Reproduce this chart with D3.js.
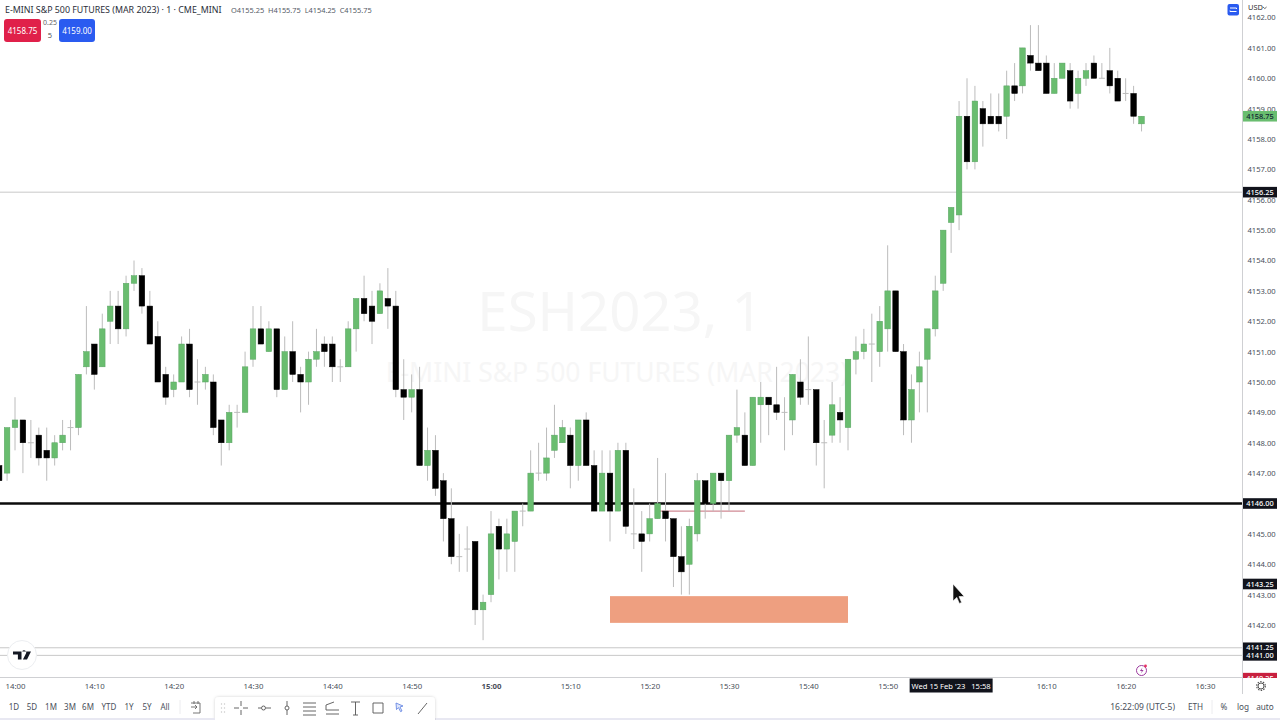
<!DOCTYPE html>
<html><head><meta charset="utf-8">
<script src="https://cdn.jsdelivr.net/npm/d3@7"></script>
<style>
html,body{margin:0;padding:0;background:#fff;overflow:hidden}
svg{display:block}
text{font-family:"Noto Sans",Roboto,sans-serif}
</style></head><body>
<svg id="c" width="1280" height="720"></svg>
<script>
const firstMinute = -2;
const opens = [
4147.25,4147,4148.5,4148.75,4148,4148.25,4147.75,4147.5,4148,4148.5,
4148.5,4150.5,4151.25,4150.5,4152,4152.5,4151.75,4153.25,4153.5,4152.5,
4151.5,4150.25,4149.75,4150,4151.25,4150,4150,4150,4148.75,4148,
4149,4149,4150.75,4151.75,4151,4151.75,4149.75,4151,4150.25,4150,
4150.75,4151.25,4151.25,4150.5,4150.5,4151.75,4152.75,4152.5,4152.25,4152.75,
4152.5,4149.75,4149.5,4149.75,4147.25,4147.75,4146.75,4145.5,4144.25,4144.5,
4144.75,4142.5,4143,4145.25,4144.5,4144.75,4145.75,4145.75,4147,4147,
4147.75,4148,4148.25,4147.25,4148.75,4147.25,4145.75,4147,4145.75,4147.75,
4145,4145,4145,4145.5,4145.75,4145.5,4144.25,4144,4145,4146.75,
4146,4147,4146.75,4148.25,4148.25,4147.25,4149.25,4149.5,4149.25,4149,
4148.75,4150,4149.75,4149.75,4148,4148.25,4149,4148.5,4150.75,4151,
4151.25,4151,4151.75,4153,4151,4148.75,4150,4150.75,4151.75,4153.25,
4155.25,4155.5,4158.75,4157.25,4159,4158.75,4158.75,4158.75,4159.75,4159.75,
4160.75,4160.5,4160.5,4159.5,4160,4160.25,4159.5,4160,4160.5,4160,
4160.25,4160,4159.5,4159.5,4158.5];
const highs = [
4147.25,4148.5,4149.5,4148.75,4148.75,4148.5,4148.5,4148.25,4148.75,4148.75,
4150.25,4152.5,4151.25,4152.25,4153,4153,4153.5,4154,4153.75,4153,
4152,4150.5,4150.25,4151.5,4151.75,4150.75,4150.5,4150.25,4148.75,4149.25,
4149.25,4151,4152.5,4152.5,4152,4151.75,4151.5,4152,4150.5,4151,
4151.75,4151.5,4151.5,4150.75,4152,4152.75,4153.5,4153,4153.25,4153.75,
4153,4150.75,4150.25,4150.5,4148.5,4148.25,4147,4146.5,4145,4145.25,
4144.75,4143,4145.75,4145.5,4145.5,4145.75,4146,4147.75,4148,4148.5,
4149.25,4148.75,4148.5,4148.75,4149,4147.75,4147.75,4147.75,4148,4148,
4146.5,4145.75,4146,4147.5,4147,4145.5,4145.25,4145.5,4147,4146.75,
4147,4147,4148.25,4149.75,4149,4149.5,4150,4149.5,4150.5,4149.5,
4150.25,4150.75,4151.5,4149.75,4148.75,4150,4149.5,4150.75,4151.5,4151.75,
4152.25,4152.5,4154.5,4153,4151.25,4150.25,4151,4151.75,4153.5,4155,
4155.75,4159.25,4160,4159.75,4159.25,4159.5,4159.5,4160.25,4160.5,4161,
4161.75,4161.75,4160.75,4160.5,4160.5,4160.5,4160.25,4160.5,4160.75,4160.5,
4161,4160.25,4160,4159.75,4158.75];
const lows = [
4146.5,4146.75,4147.75,4147,4147.5,4147.25,4146.75,4147.25,4147.75,4147.75,
4148.25,4150.25,4149.75,4150.5,4151.25,4151.25,4151.5,4153,4152.25,4151.25,
4150,4149.25,4149.5,4150,4149.5,4149.25,4149.75,4148.25,4147.25,4147.75,
4148.5,4149,4150.5,4151.25,4151,4149.5,4149.75,4150,4149,4149.25,
4150.5,4150.5,4150,4150,4150.5,4151,4152,4151.25,4152.25,4151.75,
4149.5,4148.75,4149,4147.25,4146.75,4146.25,4144.75,4144,4143.75,4143.75,
4142,4141.5,4142.75,4143.5,4143.75,4143.75,4145.25,4145.75,4146.75,4146.75,
4147.5,4148,4146.5,4146.75,4147.25,4145.75,4145.75,4144.75,4145.75,4145,
4144.5,4143.75,4144.75,4145.5,4144.75,4143.25,4143,4143,4144.75,4145.5,
4145.75,4145.5,4145.75,4148,4147.25,4147.25,4148,4148.25,4148.75,4147.75,
4148.25,4149.25,4149.25,4147.25,4146.5,4148,4148,4147.75,4150.25,4150.75,
4150,4150.5,4151,4151,4148.25,4148,4149,4149,4151.5,4153,
4154.25,4155,4157,4157,4157.75,4158.5,4158.25,4158,4159.25,4159.5,
4160.25,4160.25,4159.5,4159.5,4160,4159,4159,4159.75,4160,4160,
4159.5,4159.25,4159.25,4158.5,4158.25];
const closes = [
4146.75,4148.5,4148.75,4148,4148,4147.5,4147.5,4148,4148.25,4148.5,
4150.25,4151,4150.25,4151.75,4152.5,4151.75,4153.25,4153.5,4152.5,4151.25,
4150,4149.5,4150,4151.25,4149.75,4150,4150.25,4148.5,4148,4149,
4149,4150.5,4151.75,4151.25,4151.75,4149.75,4151,4150.25,4150,4150.75,
4151,4151,4150.5,4150.5,4151.75,4152.75,4152.25,4152,4153,4152.5,
4149.75,4149.5,4149.75,4147.25,4147.75,4146.5,4145.5,4144.25,4144.25,4144.5,
4142.5,4142.75,4145,4144.5,4145,4145.75,4145.75,4147,4147,4147.5,
4148.25,4148.5,4147.25,4148.75,4147.25,4145.75,4147,4145.75,4147.75,4145.25,
4145,4144.75,4145.5,4146,4145.5,4144.25,4143.75,4145.25,4146.75,4146,
4147,4146.75,4148.25,4148.5,4147.25,4149.5,4149.5,4149.25,4149,4149,
4150.25,4149.5,4149.75,4148,4148,4149.25,4148.75,4150.75,4151,4151.25,
4151.25,4152,4153,4151,4148.75,4149.75,4150.5,4151.75,4153,4155,
4155.75,4158.75,4157.25,4159.25,4158.5,4158.5,4158.5,4159.75,4159.5,4161,
4160.5,4160.25,4159.5,4160,4160.5,4159.25,4160,4160.25,4160,4160,
4159.75,4159.25,4159.5,4158.75,4158.75];

const priceTicks = [4142,4143,4144,4145,4147,4148,4149,4150,4151,4152,4153,4154,4155,4156,4157,4158,4159,4160,4161,4162];
const timeMinutes = [0,10,20,30,40,50,60,70,80,90,100,110,130,140,150];
const timeLabels = ["14:00","14:10","14:20","14:30","14:40","14:50","15:00","15:10","15:20","15:30","15:40","15:50","16:10","16:20","16:30"];
const lineLevels = [4156.25,4141.25,4141];
const badgeLevels = [4156.25,4146,4143.25,4141.25,4141];
const badgeAnchors = [4156.25,4146,4143.35,4141.25,4141];
const zoneLow = 4142.07, zoneHigh = 4142.95, zoneStart = 75.0, zoneEnd = 105.0;
const redLineLevel = 4145.75, redLineStart = 81, redLineEnd = 92;
const lastPrice = 4158.75, bidLevel = 4140.25;
const crosshairMinute = 118;
const rangeLabels = ["1D","5D","1M","3M","6M","YTD","1Y","5Y","All"];
const rangeX = [14,32,51,70,88,109,129,147,165];

const svg = d3.select("#c");
const x = d3.scaleLinear().domain([0,150]).range([15,1205]);
const y = d3.scaleLinear().domain([4146,4161]).range([503.5,47.9]);
const GREEN="#69bd6f", GREENS="#58a362", WICK="#bcbcbc", AXIS="#cfd0d3", TXT="#4a505b";

const defs = svg.append("defs");
defs.append("clipPath").attr("id","pane").append("rect").attr("x",0).attr("y",0).attr("width",1242).attr("height",677);
defs.append("clipPath").attr("id","axisclip").append("rect").attr("x",1242).attr("y",0).attr("width",38).attr("height",678);
const f = defs.append("filter").attr("id","sh").attr("x","-5%").attr("y","-20%").attr("width","110%").attr("height","140%");
f.append("feDropShadow").attr("dx",0).attr("dy",0).attr("stdDeviation",1.6).attr("flood-color","#000").attr("flood-opacity",0.18);

// watermark
svg.append("text").attr("x",620).attr("y",331).attr("text-anchor","middle").attr("font-size",54.5).attr("fill","#f6f6f6").text("ESH2023, 1");
svg.append("text").attr("x",617).attr("y",382).attr("text-anchor","middle").attr("font-size",26.5).attr("fill","#f6f6f6").text("E-MINI S&P 500 FUTURES (MAR 2023)");

const pane = svg.append("g").attr("clip-path","url(#pane)");
pane.selectAll("line.lvl").data(lineLevels).join("line").attr("class","lvl")
  .attr("x1",0).attr("x2",1242).attr("y1",d=>y(d)).attr("y2",d=>y(d)).attr("stroke","#c8c8c8").attr("stroke-width",1);
pane.append("line").attr("x1",0).attr("x2",1242).attr("y1",y(4146)).attr("y2",y(4146)).attr("stroke","#0b0b0b").attr("stroke-width",2.4);
pane.append("line").attr("x1",x(redLineStart)).attr("x2",x(redLineEnd)).attr("y1",y(redLineLevel)).attr("y2",y(redLineLevel)).attr("stroke","#d08a94").attr("stroke-width",1.2);
pane.append("rect").attr("x",x(zoneStart)).attr("width",x(zoneEnd)-x(zoneStart)).attr("y",y(zoneHigh)).attr("height",y(zoneLow)-y(zoneHigh)).attr("fill","#ee9f80");

// candles
const bars = d3.range(opens.length).map(i=>({m:firstMinute+i,o:opens[i],h:highs[i],l:lows[i],c:closes[i]}));
const cg = pane.append("g");
cg.selectAll("line.wick").data(bars).join("line").attr("class","wick")
  .attr("x1",d=>x(d.m)).attr("x2",d=>x(d.m)).attr("y1",d=>y(d.h)).attr("y2",d=>y(d.l))
  .attr("stroke",WICK).attr("stroke-width",1);
cg.selectAll("line.doji").data(bars.filter(d=>d.o===d.c)).join("line").attr("class","doji")
  .attr("x1",d=>x(d.m)-3).attr("x2",d=>x(d.m)+3).attr("y1",d=>y(d.o)).attr("y2",d=>y(d.o))
  .attr("stroke",WICK).attr("stroke-width",1);
cg.selectAll("rect.body").data(bars.filter(d=>d.o!==d.c)).join("rect").attr("class","body")
  .attr("x",d=>x(d.m)-2.8).attr("width",5.6)
  .attr("y",d=>y(Math.max(d.o,d.c))).attr("height",d=>Math.abs(y(d.o)-y(d.c)))
  .attr("fill",d=>d.c>d.o?GREEN:"#000").attr("stroke",d=>d.c>d.o?GREENS:"#000").attr("stroke-width",0.5);

// axes
const ax = svg.append("g").attr("clip-path","url(#axisclip)");
const yAxis = d3.axisRight(y).tickValues(priceTicks).tickSize(0).tickPadding(5.5).tickFormat(d3.format(".2f"));
const yg = ax.append("g").attr("transform","translate(1242,0)").call(yAxis);
yg.select(".domain").remove();
yg.selectAll("text").attr("font-size",7.6).attr("fill",TXT).attr("font-family",'"Noto Sans"');
const xAxis = d3.axisBottom(x).tickValues(timeMinutes).tickSize(0).tickPadding(5).tickFormat((d,i)=>timeLabels[i]);
const xg = svg.append("g").attr("transform","translate(0,678)").call(xAxis);
xg.select(".domain").remove();
xg.selectAll("text").attr("font-size",7.8).attr("fill",TXT).attr("font-family",'"Noto Sans"')
  .attr("font-weight",d=>d===60?700:400);

svg.append("line").attr("x1",0).attr("x2",1242).attr("y1",677.5).attr("y2",677.5).attr("stroke",AXIS);
svg.append("line").attr("x1",1242.5).attr("x2",1242.5).attr("y1",0).attr("y2",694).attr("stroke",AXIS);

// price badges
const badge = ax.append("g");
function addBadge(p,anchor,fill,txt){
  const g = badge.append("g").attr("transform",`translate(0,${y(anchor)})`);
  g.append("rect").attr("x",1243).attr("y",-5.3).attr("width",34).attr("height",10.6).attr("fill",fill);
  g.append("text").attr("x",1260).attr("y",2.7).attr("text-anchor","middle").attr("font-size",7.4).attr("fill",txt).attr("font-weight",500).text(d3.format(".2f")(p));
}
addBadge(lastPrice,lastPrice,GREEN,"#123");
badgeLevels.forEach((p,i)=>addBadge(p,badgeAnchors[i],"#11131c","#fff"));
addBadge(bidLevel,bidLevel,"#c8203f","#fff");

// crosshair time label
svg.append("rect").attr("x",x(crosshairMinute)-41.5).attr("y",678.5).attr("width",83).attr("height",14).attr("fill","#11131c");
svg.append("text").attr("x",x(crosshairMinute)).attr("y",688.7).attr("text-anchor","middle").attr("font-size",7.6).attr("fill","#fff").attr("xml:space","preserve").text("Wed 15 Feb '23   15:58");

// header
function T(xp,yp,s,size,fill,anchor,weight){return svg.append("text").attr("x",xp).attr("y",yp).attr("font-size",size).attr("fill",fill).attr("text-anchor",anchor||"start").attr("font-weight",weight||400).text(s);}
T(5,13,"E-MINI S&P 500 FUTURES (MAR 2023) · 1 · CME_MINI",8.85,"#2a2e39");
T(231,13,"O4155.25  H4155.75  L4154.25  C4155.75",7.4,"#555b66").attr("xml:space","preserve");
svg.append("rect").attr("x",4).attr("y",19).attr("width",37).attr("height",23).attr("rx",3).attr("fill","#e0204a");
svg.append("rect").attr("x",59).attr("y",19).attr("width",36).attr("height",23).attr("rx",3).attr("fill","#2a5bf0");
T(22.5,33.5,"4158.75",8,"#fff","middle");
T(77,33.5,"4159.00",8,"#fff","middle");
T(50,25,"0.25",7,"#666","middle");
T(50,38,"5",7.5,"#555","middle");

// top right
svg.append("rect").attr("x",1227.5).attr("y",4).attr("width",11.5).attr("height",11.5).attr("rx",2).attr("fill","#2a5bf0");
svg.append("path").attr("d","M1230 8h6.5v1M1236.5 11.5h-6.5v-1").attr("fill","none").attr("stroke","#fff").attr("stroke-width",1);
T(1248,10,"USD",7.5,"#333");
svg.append("path").attr("d","M1263 7l1.8 1.6 1.8-1.6").attr("fill","none").attr("stroke","#444").attr("stroke-width",.8);

// logo
svg.append("circle").attr("cx",22).attr("cy",655).attr("r",14.5).attr("fill","#fff").attr("stroke","#eceef1");
svg.append("path").attr("d","M13 651.5h8.5v8h-3.6v-5h-4.9zM22.2 651.5h8.8l-4 8h-4.1l3.2-6.2a1.2 1.2 0 1 0-3.9-1.8z").attr("fill","#131722");

// lightning icon
svg.append("circle").attr("cx",1141.5).attr("cy",670.5).attr("r",5).attr("fill","#fff").attr("stroke","#9c3a9e").attr("stroke-width",1);
svg.append("path").attr("d","M1142.5 667.5l-2.6 3.4h2l-1 2.6 2.7-3.6h-2z").attr("fill","#9c3a9e");
svg.append("circle").attr("cx",1145.5).attr("cy",666).attr("r",1.4).attr("fill","#e8315f");

// gear
svg.append("circle").attr("cx",1261).attr("cy",686).attr("r",3).attr("fill","none").attr("stroke","#555").attr("stroke-width",1);
svg.append("circle").attr("cx",1261).attr("cy",686).attr("r",4.3).attr("fill","none").attr("stroke","#555").attr("stroke-width",1.2).attr("stroke-dasharray","1.5 1.2");

// mouse cursor
svg.append("path").attr("d","M953 584l0 17 3.8-3.6 2.6 6 2.2-1-2.6-5.8 5.2-.2z").attr("fill","#111").attr("stroke","#fff").attr("stroke-width",.6);

// bottom bar
svg.append("rect").attr("x",0).attr("y",696).attr("width",1280).attr("height",22).attr("fill","#fff");
svg.append("rect").attr("x",0).attr("y",718).attr("width",1280).attr("height",2).attr("fill","#e8e8f2");
svg.selectAll("text.rng").data(rangeLabels).join("text").attr("class","rng")
  .attr("x",(d,i)=>rangeX[i]).attr("y",710).attr("text-anchor","middle").attr("font-size",8).attr("fill",TXT).text(d=>d);
svg.append("line").attr("x1",180).attr("x2",180).attr("y1",700).attr("y2",714).attr("stroke","#ececef");
svg.append("path").attr("d","M191 703h9v10h-7M191 707h6m-2-2l2 2-2 2M194 701v3M198 701v3").attr("fill","none").attr("stroke","#666").attr("stroke-width",.9);

// drawing toolbar
svg.append("rect").attr("x",215).attr("y",697).attr("width",220).attr("height",28).attr("rx",4).attr("fill","#fff").attr("filter","url(#sh)");
svg.append("rect").attr("x",0).attr("y",718).attr("width",215).attr("height",2).attr("fill","#e8e8f2");
svg.append("rect").attr("x",436).attr("y",718).attr("width",844).attr("height",2).attr("fill","#e8e8f2");
const toolbarIcons = [
 "M234 708h5M243 708h5M241 701v5M241 710v5",
 "M258 708h3M266 708h5M263.5 708m-2 0a2 2 0 1 0 4 0a2 2 0 1 0-4 0",
 "M287 701v5M287 710v5M287 708m-2 0a2 2 0 1 0 4 0a2 2 0 1 0-4 0",
 "M303 703h13M303 707h13M303 711h13M303 715h13",
 "M326 705l8-3M326 710h13M326 714h13M326 705v5",
 "M351 702h9M355.5 702v13M353 715h5",
 "M373 703h10v10h-10z",
 "M418 714l9-11"];
svg.selectAll("path.tool").data(toolbarIcons).join("path").attr("class","tool").attr("d",d=>d)
  .attr("fill","none").attr("stroke","#555").attr("stroke-width",.9);
svg.append("path").attr("d","M396 703l7 3-3 1 2 4-1.5.6-2-4-2 2z").attr("fill","#dfe6fb").attr("stroke","#5a7de0").attr("stroke-width",.8);
svg.append("path").attr("d","M221.5 704v.1M224.5 704v.1M221.5 708v.1M224.5 708v.1M221.5 712v.1M224.5 712v.1").attr("stroke","#c9c9c9").attr("stroke-width",1.4).attr("stroke-linecap","round");

// right status
T(1175,710,"16:22:09 (UTC-5)",8.5,TXT,"end");
T(1195.5,710,"ETH",8.2,TXT,"middle");
svg.append("line").attr("x1",1212).attr("x2",1212).attr("y1",700).attr("y2",714).attr("stroke","#ececef");
T(1224,710,"%",8.2,TXT,"middle");
T(1243,710,"log",8.2,TXT,"middle");
T(1265,710,"auto",8.2,TXT,"middle");
</script>
</body></html>
